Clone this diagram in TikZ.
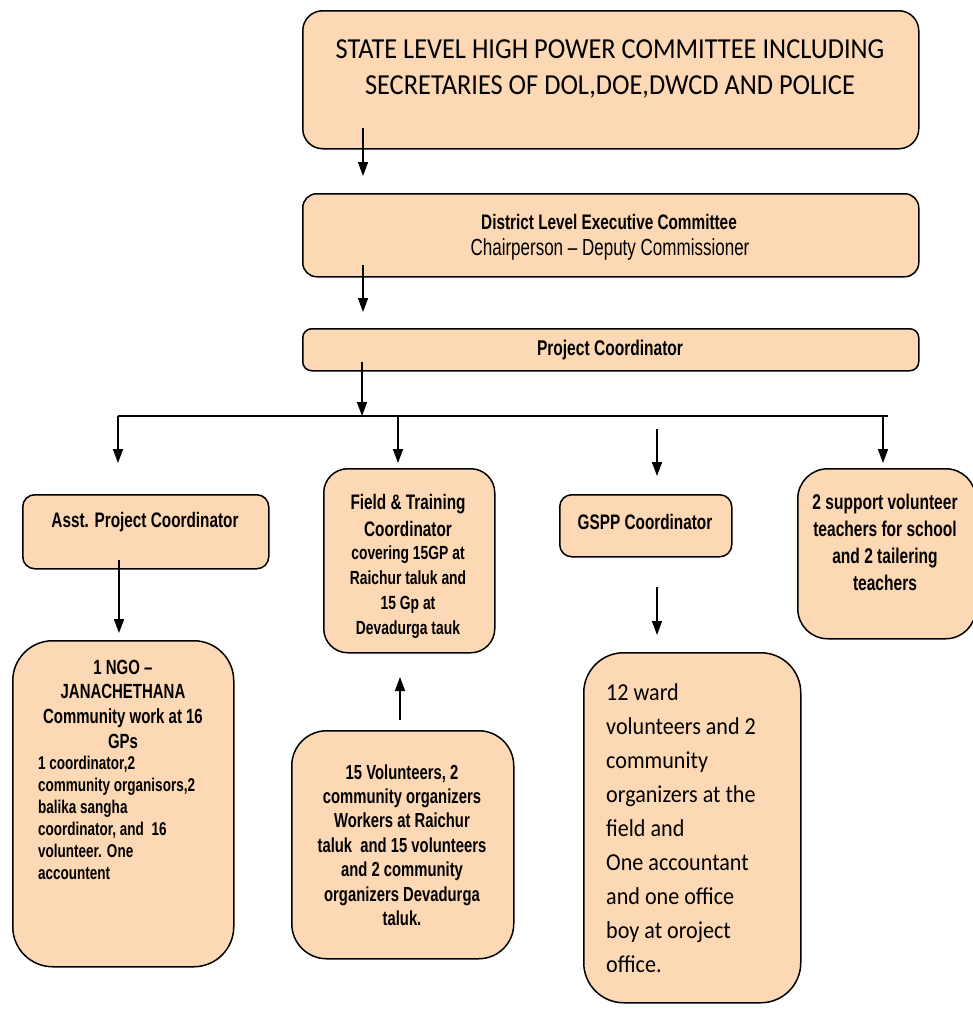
\documentclass[tikz,border=0pt]{standalone}
\usepackage{fontspec}
\setmainfont{Liberation Sans}
\newfontfamily\narrowf[FakeStretch=0.73]{Liberation Sans}
\newfontfamily\calib[FakeStretch=0.91]{Carlito}
\usetikzlibrary{arrows.meta}
\definecolor{peach}{RGB}{252,216,180}
\tikzset{
  box/.style={draw=black, line width=1.5pt, fill=peach, anchor=north west, inner sep=0pt},
  txt/.style={inner sep=0pt, align=center},
  conn/.style={line width=1.6pt, -{Triangle[width=10pt,length=14pt]}},
  plain/.style={line width=1.6pt}
}
\begin{document}
\begin{tikzpicture}[x=1pt,y=-1pt]
\useasboundingbox (0,0) rectangle (973,1012);
% boxes
\node[box, rounded corners=20pt, minimum width=616pt, minimum height=138pt] (state) at (302,10) {};
\node[box, rounded corners=14pt, minimum width=616pt, minimum height=83pt] (dist) at (302,193) {};
\node[box, rounded corners=9pt, minimum width=616pt, minimum height=42pt] (pc) at (302,328) {};
\node[box, rounded corners=12pt, minimum width=246pt, minimum height=74pt] (asst) at (22,494) {};
\node[box, rounded corners=24pt, minimum width=171pt, minimum height=184pt] (field) at (323,468) {};
\node[box, rounded corners=12pt, minimum width=172pt, minimum height=62pt] (gspp) at (559,494) {};
\node[box, rounded corners=30pt, minimum width=178pt, minimum height=170pt] (supp) at (797,468) {};
\node[box, rounded corners=40pt, minimum width=221pt, minimum height=326pt] (ngo) at (12,640) {};
\node[box, rounded corners=35pt, minimum width=222pt, minimum height=228pt] (vol) at (291,730) {};
\node[box, rounded corners=40pt, minimum width=217pt, minimum height=350pt] (ward) at (583,652) {};
% texts
\node[txt, font=\calib\fontsize{29}{36}\selectfont] (statet) at (610,68.5)
  {STATE LEVEL HIGH POWER COMMITTEE INCLUDING\\SECRETARIES OF DOL,DOE,DWCD AND POLICE};
\node[txt, font=\narrowf\bfseries\fontsize{21}{27}\selectfont] (distt1) at (609,222) {District Level Executive Committee};
\node[txt, font=\narrowf\fontsize{23.3}{27}\selectfont] (distt2) at (610,249) {Chairperson \textendash{} Deputy Commissioner};
\node[txt, font=\narrowf\bfseries\fontsize{21.3}{20}\selectfont] (pct) at (610,350) {Project Coordinator};
\node[txt, font=\narrowf\bfseries\fontsize{21}{20}\selectfont] (asstt) at (145,522) {Asst. Project Coordinator};
\node[txt, font=\narrowf\bfseries\fontsize{21}{27}\selectfont] (fieldt1) at (408,515.5) {Field \& Training\\Coordinator};
\node[txt, font=\narrowf\bfseries\fontsize{19}{25}\selectfont] (fieldt2) at (408,592.5) {covering 15GP at\\Raichur taluk and\\15 Gp at\\Devadurga tauk};
\node[txt, font=\narrowf\bfseries\fontsize{21}{20}\selectfont] (gsppt) at (645,522) {GSPP Coordinator};
\node[txt, font=\narrowf\bfseries\fontsize{21.3}{27}\selectfont] (suppt) at (885,542.5) {2 support volunteer\\teachers for school\\and 2 tailering\\teachers};
\node[txt, font=\narrowf\bfseries\fontsize{20.5}{24.7}\selectfont] (ngot1) at (123,704) {1 NGO \textendash\\JANACHETHANA\\Community work at 16\\GPs};
\node[txt, align=left, anchor=west, font=\narrowf\bfseries\fontsize{18.5}{22}\selectfont] (ngot2) at (38,818) {1 coordinator,2\\community organisors,2\\balika sangha\\coordinator, and\ \ 16\\volunteer. One\\accountent};
\node[txt, font=\narrowf\bfseries\fontsize{20.3}{24.4}\selectfont] (volt) at (402,845) {15 Volunteers, 2\\community organizers\\Workers at Raichur\\taluk\ \ and 15 volunteers\\and 2 community\\organizers Devadurga\\taluk.};
\node[txt, align=left, anchor=west, font=\calib\fontsize{24.3}{34}\selectfont] (wardt) at (606,828) {12 ward\\volunteers and 2\\community\\organizers at the\\field and\\One accountant\\and one office\\boy at oroject\\office.};
% connector coordinates
\coordinate (s1) at (363,128);
\coordinate (d0) at (363,176);
\coordinate (d1) at (363,265);
\coordinate (p0) at (363,312);
\coordinate (p1) at (362,362);
\coordinate (h0) at (362,416);
\coordinate (hl) at (118,416);
\coordinate (hr) at (888,416);
\coordinate (ha) at (118,416);
\coordinate (ha1) at (118,463);
\coordinate (hf) at (398,416);
\coordinate (hf1) at (398,463);
\coordinate (hs) at (883,416);
\coordinate (hs1) at (883,463);
\coordinate (g0) at (657,429);
\coordinate (g1) at (657,476);
\coordinate (a1) at (119,560);
\coordinate (a2) at (119,633);
\coordinate (gb1) at (657,587);
\coordinate (gb2) at (657,635);
\coordinate (v1) at (400,720);
\coordinate (v2) at (400,677);
% connectors
\draw[conn] (s1) -- (d0);
\draw[conn] (d1) -- (p0);
\draw[conn] (p1) -- (h0);
\draw[plain] (hl) -- (hr);
\draw[conn] (ha) -- (ha1);
\draw[conn] (hf) -- (hf1);
\draw[conn] (hs) -- (hs1);
\draw[conn] (g0) -- (g1);
\draw[conn] (a1) -- (a2);
\draw[conn] (gb1) -- (gb2);
\draw[conn] (v1) -- (v2);
\end{tikzpicture}
\end{document}
